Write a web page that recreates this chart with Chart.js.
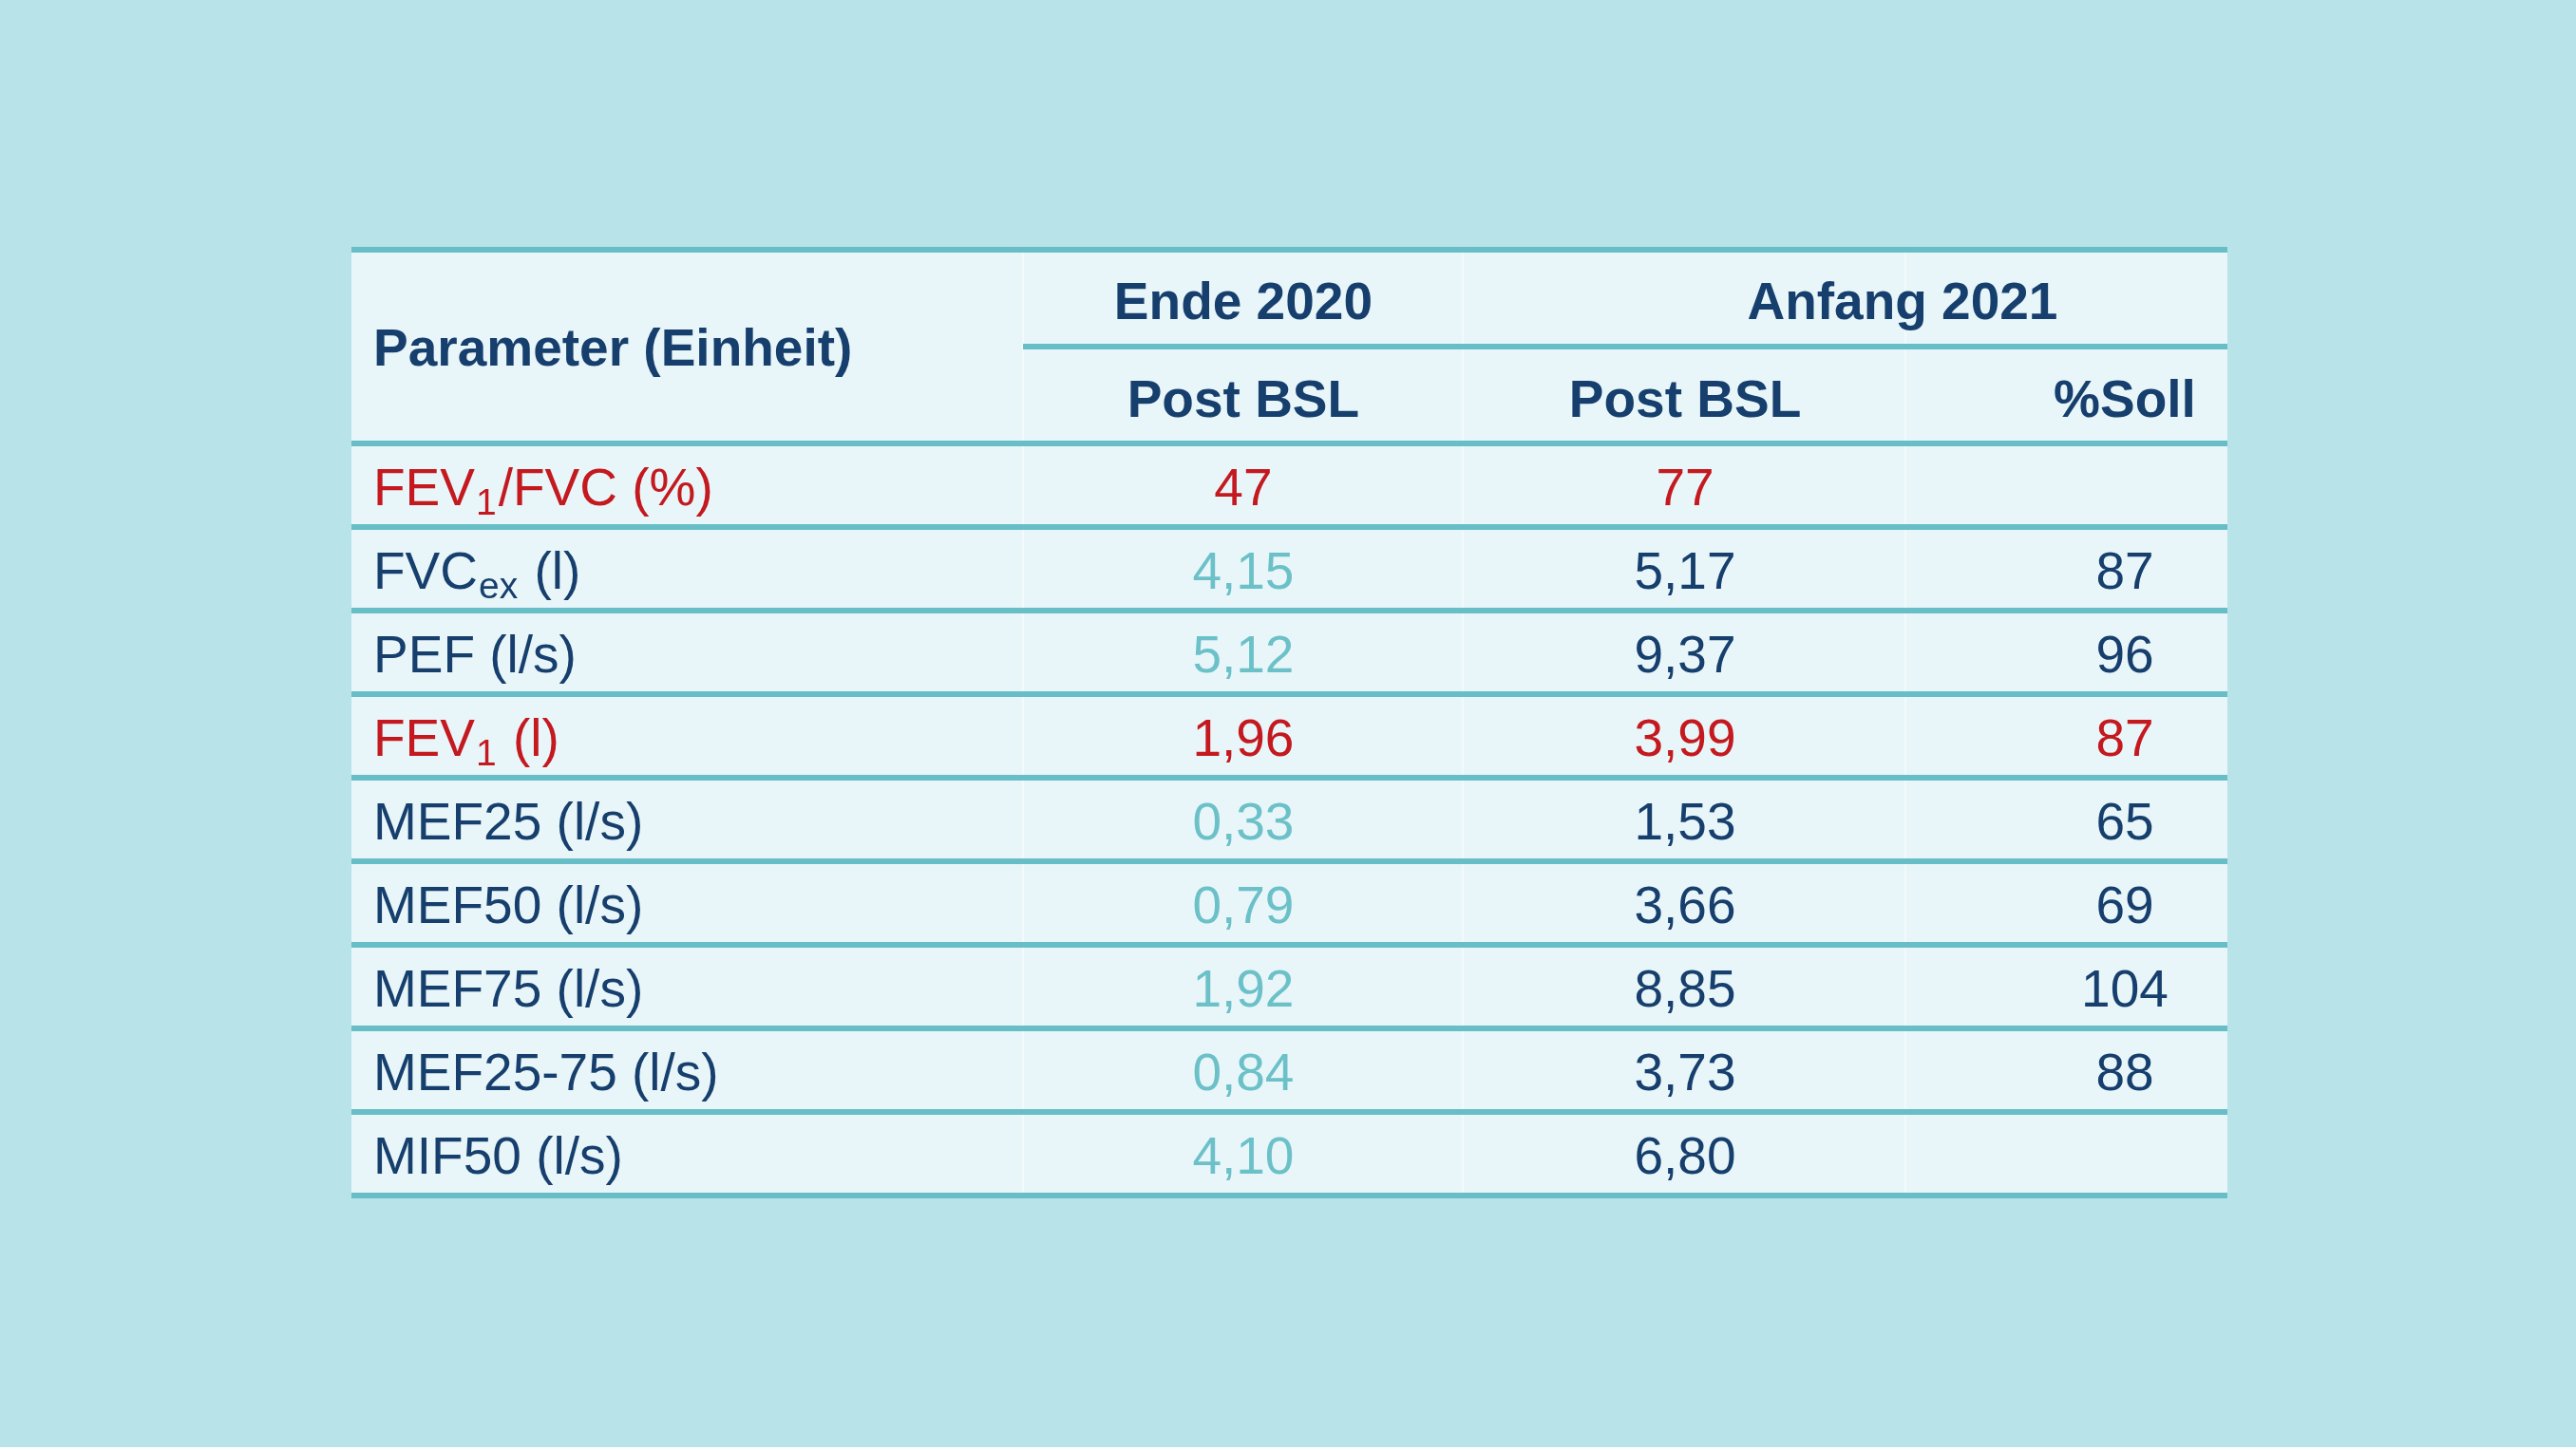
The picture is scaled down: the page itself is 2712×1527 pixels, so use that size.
<!DOCTYPE html>
<html>
<head>
<meta charset="utf-8">
<script src="https://cdn.jsdelivr.net/npm/chart.js@4/dist/chart.umd.min.js"></script>
<style>
  html, body { margin: 0; padding: 0; background: #ffffff; }
  #wrap { width: 2712px; height: 1524px; background: #b8e3e9; }
  canvas { display: block; }
</style>
</head>
<body>
<div id="wrap"><canvas id="c" width="2712" height="1524"></canvas></div>
<script>
// ---- data ----
const parameters = ['FEV{1}/FVC (%)', 'FVC{ex} (l)', 'PEF (l/s)', 'FEV{1} (l)', 'MEF25 (l/s)', 'MEF50 (l/s)', 'MEF75 (l/s)', 'MEF25-75 (l/s)', 'MIF50 (l/s)'];
const ende2020PostBSL   = [47, 4.15, 5.12, 1.96, 0.33, 0.79, 1.92, 0.84, 4.10];
const anfang2021PostBSL = [77, 5.17, 9.37, 3.99, 1.53, 3.66, 8.85, 3.73, 6.80];
const anfang2021Soll    = [null, 87, 96, 87, 65, 69, 104, 88, null];
const rowDecimals       = [0, 2, 2, 2, 2, 2, 2, 2, 2];
const sollDecimals      = [0, 0, 0, 0, 0, 0, 0, 0, 0];
const highlightedRows   = [0, 3];
const groupHeaders = ['Ende 2020', 'Anfang 2021'];
const columnHeaders = ['Parameter (Einheit)', 'Post BSL', 'Post BSL', '%Soll'];

// ---- layout (table units) ----
const HEADER_UNITS = 2.318;
const COL_EDGES = [0, 0.358, 0.5924, 0.8284, 1];
const COL_ANCHORS = [0.01165, 0.4754, 0.7109, 0.9453];
const GROUP_ANCHORS = [0.4754, 0.8268];

const C_BG_CELL = '#e8f6f9';
const C_LINE = '#68bec6';
const C_DARK = '#173f6d';
const C_RED = '#c3191f';
const C_TEAL = '#6cc1c8';
const FONT_FAMILY = "'Liberation Sans', Arial, Helvetica, sans-serif";
const FS = 55;

function fmt(v, d) {
  if (v === null || v === undefined) return '';
  return v.toFixed(d).replace('.', ',');
}

function mkData(values, col, decimals) {
  return values.map((v, i) => ({ x: COL_ANCHORS[col], y: i + 0.5, label: fmt(v, decimals[i]) }));
}

function drawRich(ctx, text, x, y, color) {
  const parts = text.split(/(\{[^}]*\})/).filter(s => s.length);
  let cx = x;
  ctx.fillStyle = color;
  ctx.textAlign = 'left';
  for (const p of parts) {
    if (p.startsWith('{')) {
      const s = p.slice(1, -1);
      ctx.font = `${Math.round(FS * 0.7)}px ${FONT_FAMILY}`;
      ctx.fillText(s, cx + 1, y + 10);
      cx += ctx.measureText(s).width + 3;
    } else {
      ctx.font = `${FS}px ${FONT_FAMILY}`;
      ctx.fillText(p, cx, y);
      cx += ctx.measureText(p).width;
    }
  }
}

const tablePlugin = {
  id: 'tablePlugin',
  beforeDatasetsDraw(chart) {
    const { ctx, scales: { x, y } } = chart;
    const left = x.getPixelForValue(0), right = x.getPixelForValue(1);
    const top = y.getPixelForValue(-HEADER_UNITS), bottom = y.getPixelForValue(parameters.length);
    ctx.save();
    ctx.fillStyle = C_BG_CELL;
    ctx.fillRect(left, top, right - left, bottom - top);
    ctx.strokeStyle = 'rgba(255,255,255,0.45)';
    ctx.lineWidth = 2;
    for (let k = 1; k < COL_EDGES.length - 1; k++) {
      const px = Math.round(x.getPixelForValue(COL_EDGES[k]));
      ctx.beginPath(); ctx.moveTo(px, top); ctx.lineTo(px, bottom); ctx.stroke();
    }
    ctx.strokeStyle = C_LINE;
    ctx.lineWidth = 6;
    const rule = (yy, x0, x1) => { ctx.beginPath(); ctx.moveTo(x0, yy); ctx.lineTo(x1, yy); ctx.stroke(); };
    rule(top, left, right);
    rule(y.getPixelForValue(-HEADER_UNITS / 2), x.getPixelForValue(COL_EDGES[1]), right);
    for (let i = 0; i <= parameters.length; i++) rule(y.getPixelForValue(i), left, right);
    ctx.restore();
  },
  afterDatasetsDraw(chart) {
    const { ctx, scales: { x, y } } = chart;
    ctx.save();
    ctx.textBaseline = 'alphabetic';
    ctx.fillStyle = C_DARK;
    ctx.font = `bold ${FS}px ${FONT_FAMILY}`;
    ctx.textAlign = 'left';
    ctx.fillText(columnHeaders[0], x.getPixelForValue(COL_ANCHORS[0]), y.getPixelForValue(-HEADER_UNITS / 2) + 20);
    ctx.textAlign = 'center';
    groupHeaders.forEach((g, k) => {
      ctx.fillText(g, x.getPixelForValue(GROUP_ANCHORS[k]), y.getPixelForValue(-HEADER_UNITS * 0.75) + 22);
    });
    for (let k = 1; k < columnHeaders.length; k++) {
      ctx.fillText(columnHeaders[k], x.getPixelForValue(COL_ANCHORS[k]), y.getPixelForValue(-HEADER_UNITS * 0.25) + 23);
    }
    parameters.forEach((p, i) => {
      const col = highlightedRows.includes(i) ? C_RED : C_DARK;
      drawRich(ctx, p, x.getPixelForValue(COL_ANCHORS[0]), y.getPixelForValue(i + 0.5) + 21, col);
    });
    ctx.font = `${FS}px ${FONT_FAMILY}`;
    ctx.textAlign = 'center';
    chart.data.datasets.forEach((ds, di) => {
      const meta = chart.getDatasetMeta(di);
      meta.data.forEach((el, i) => {
        const lbl = ds.data[i].label;
        if (!lbl) return;
        ctx.fillStyle = highlightedRows.includes(i) ? C_RED : ds.textColor;
        ctx.fillText(lbl, el.x, el.y + 21);
      });
    });
    ctx.restore();
  }
};

new Chart(document.getElementById('c'), {
  type: 'scatter',
  data: {
    datasets: [
      { label: 'Ende 2020 Post BSL', data: mkData(ende2020PostBSL, 1, rowDecimals), textColor: C_TEAL, pointRadius: 0 },
      { label: 'Anfang 2021 Post BSL', data: mkData(anfang2021PostBSL, 2, rowDecimals), textColor: C_DARK, pointRadius: 0 },
      { label: 'Anfang 2021 %Soll', data: mkData(anfang2021Soll, 3, sollDecimals), textColor: C_DARK, pointRadius: 0 }
    ]
  },
  options: {
    responsive: false,
    animation: false,
    devicePixelRatio: 1,
    layout: { padding: { left: 370, right: 367, top: 263, bottom: 265 } },
    plugins: { legend: { display: false }, tooltip: { enabled: false } },
    scales: {
      x: { type: 'linear', min: 0, max: 1, display: false },
      y: { type: 'linear', min: -HEADER_UNITS, max: parameters.length, reverse: true, display: false }
    }
  },
  plugins: [tablePlugin]
});
</script>
</body>
</html>
